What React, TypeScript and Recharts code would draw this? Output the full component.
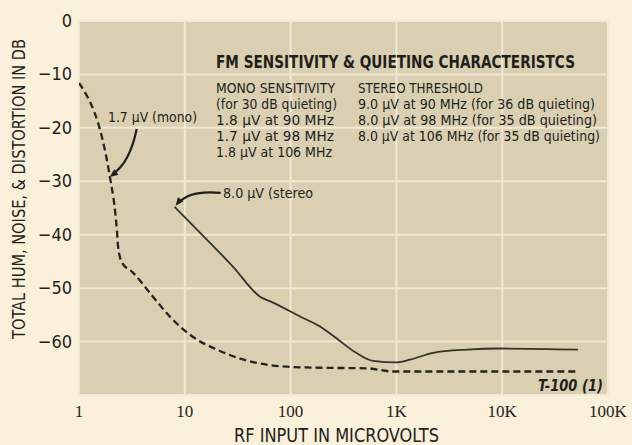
import React from 'react';
import { LineChart, Line, XAxis, YAxis, CartesianGrid, ReferenceDot } from 'recharts';

// mono (dashed) curve
const MONO_UV = [1, 1.96, 2.29, 2.34, 2.55, 3.24, 5.0, 7.7, 11.9, 20.1, 41.3, 92.5, 190, 527, 929, 2220, 52000];
const MONO_DB = [-11.6, -29.2, -39.6, -42.2, -45.2, -47.1, -51.6, -55.9, -59.1, -61.5, -63.7, -64.7, -64.9, -65.0, -65.6, -65.6, -65.6];

// stereo (solid) curve
const STEREO_UV = [8, 13.9, 28.6, 51.4, 68.2, 123, 190, 252, 424, 601, 1013, 1345, 2220, 4650, 9530, 52000];
const STEREO_DB = [-34.8, -39.6, -46.0, -51.6, -52.7, -55.3, -57.2, -58.9, -62.2, -63.6, -63.9, -63.4, -62.1, -61.5, -61.3, -61.5];

const X_TICKS = [1, 10, 100, 1000, 10000, 100000];
const X_LABELS = ['1', '10', '100', '1K', '10K', '100K'];
const Y_TICKS = [0, -10, -20, -30, -40, -50, -60];

const MONO_LINES = [
  'MONO SENSITIVITY',
  '(for 30 dB quieting)',
  '1.8 µV at 90 MHz',
  '1.7 µV at 98 MHz',
  '1.8 µV at 106 MHz',
];
const STEREO_LINES = [
  'STEREO THRESHOLD',
  '9.0 µV at 90 MHz (for 36 dB quieting)',
  '8.0 µV at 98 MHz (for 35 dB quieting)',
  '8.0 µV at 106 MHz (for 35 dB quieting)',
];
const MONO_WIDTHS = [119, 121, 118, 118, 116];
const STEREO_WIDTHS = [125, 237, 239, 242];

// where the two callout arrows point
const MONO_CALLOUT = { x: 1.95, y: -29.2 };
const STEREO_CALLOUT = { x: 8.2, y: -34.6 };

const mono = MONO_UV.map((x, i) => ({ x, db: MONO_DB[i] }));
const stereo = STEREO_UV.map((x, i) => ({ x, db: STEREO_DB[i] }));

const INK = '#211f1a';
const NARROW = "'Liberation Sans Narrow', 'DejaVu Sans Condensed', 'Roboto', sans-serif";
const SERIF = "'Liberation Serif', 'DejaVu Serif', serif";

const YTick = (props: any) => (
  <text x={props.x} y={props.y} dy={6} textAnchor="end" fill={INK}
    fontFamily={NARROW} fontSize={18}>
    {props.payload.value === 0 ? '0' : '\u2212' + Math.abs(props.payload.value)}
  </text>
);

const XTick = (props: any) => (
  <text x={props.x} y={props.y + 22} textAnchor="middle" fill={INK}
    fontFamily={SERIF} fontSize={17}>
    {X_LABELS[X_TICKS.indexOf(props.payload.value)]}
  </text>
);

const arrowHead = (tx: number, ty: number, ang: number) => {
  const a1 = ang + 0.4, a2 = ang - 0.4, L = 9;
  return `M${tx},${ty} L${tx - L * Math.cos(a1)},${ty - L * Math.sin(a1)} L${tx - L * Math.cos(a2)},${ty - L * Math.sin(a2)} Z`;
};

const MonoArrow = (p: any) => {
  const { cx, cy } = p;
  return (
    <g>
      <path d={`M${cx + 27},${cy - 48} Q${cx + 20},${cy - 14} ${cx + 3},${cy - 3}`}
        fill="none" stroke={INK} strokeWidth={2.2} />
      <path d={arrowHead(cx, cy, Math.atan2(3, -4))} fill={INK} />
    </g>
  );
};

const StereoArrow = (p: any) => {
  const { cx, cy } = p;
  return (
    <g>
      <path d={`M${cx + 45},${cy - 13} Q${cx + 14},${cy - 16} ${cx + 3},${cy - 3}`}
        fill="none" stroke={INK} strokeWidth={2.2} />
      <path d={arrowHead(cx, cy, Math.atan2(4, -3))} fill={INK} />
    </g>
  );
};

const T = (p: any) => (
  <text x={p.x} y={p.y} textLength={p.w} lengthAdjust="spacingAndGlyphs" fill={INK}
    fontFamily={NARROW} fontSize={p.size || 14} fontWeight={p.bold ? 'bold' : 'normal'}
    fontStyle={p.italic ? 'italic' : 'normal'}>
    {p.children}
  </text>
);

export default function App() {
  return (
    <div style={{ position: 'fixed', left: 0, top: 0, width: 632, height: 445, background: '#fbf0da' }}>
      <LineChart width={632} height={445} margin={{ top: 21, right: 24, left: 0, bottom: 0 }}>
        <CartesianGrid fill="#dacfb1" horizontal={false} vertical={false} />
        <CartesianGrid stroke="#f1e9d6" strokeWidth={2} fill="none" />
        <XAxis dataKey="x" type="number" scale="log" domain={[1, 100000]} ticks={X_TICKS}
          allowDataOverflow height={50} axisLine={false} tickLine={false} tickSize={0}
          tickMargin={0} tick={<XTick />} />
        <YAxis type="number" domain={[-70, 0]} ticks={Y_TICKS} width={79} axisLine={false}
          tickLine={false} tickSize={0} tickMargin={7} tick={<YTick />} />
        <Line data={mono} dataKey="db" type="monotone" stroke="#26241e" strokeWidth={2.3}
          strokeDasharray="7 4" dot={false} isAnimationActive={false} />
        <Line data={stereo} dataKey="db" type="monotone" stroke="#34332b" strokeWidth={1.8}
          dot={false} isAnimationActive={false} />
        <ReferenceDot x={MONO_CALLOUT.x} y={MONO_CALLOUT.y} shape={<MonoArrow />} />
        <ReferenceDot x={STEREO_CALLOUT.x} y={STEREO_CALLOUT.y} shape={<StereoArrow />} />
      </LineChart>
      <svg width={632} height={445} style={{ position: 'absolute', left: 0, top: 0, pointerEvents: 'none' }}>
        <text transform="translate(25,189) rotate(-90)" textAnchor="middle" textLength={300}
          lengthAdjust="spacingAndGlyphs" fill={INK} fontFamily={NARROW} fontSize={18}>
          TOTAL HUM, NOISE, &amp; DISTORTION IN DB
        </text>
        <T x={234} y={442} w={205} size={19}>RF  INPUT  IN  MICROVOLTS</T>
        <T x={216} y={68} w={359} size={17} bold>FM SENSITIVITY &amp; QUIETING CHARACTERISTCS</T>
        {MONO_LINES.map((s, i) => (
          <T key={s} x={216} y={93 + i * 16} w={MONO_WIDTHS[i]}>{s}</T>
        ))}
        {STEREO_LINES.map((s, i) => (
          <T key={s} x={358} y={93 + i * 16} w={STEREO_WIDTHS[i]}>{s}</T>
        ))}
        <T x={108} y={122} w={89}>1.7 µV (mono)</T>
        <T x={223} y={198} w={90}>8.0 µV (stereo</T>
        <T x={538} y={391} w={65} size={15} bold italic>T-100 (1)</T>
      </svg>
    </div>
  );
}
